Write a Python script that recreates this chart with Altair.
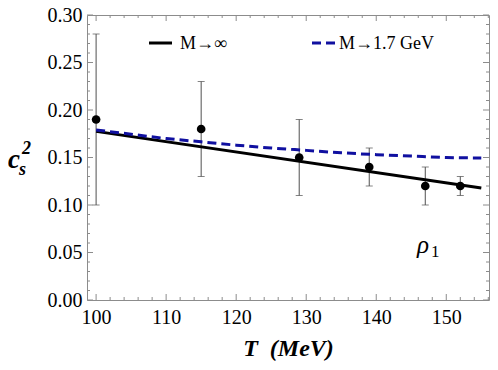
import altair as alt
import pandas as pd

# ---- data ----
T_pts = [100, 115, 129, 139, 147, 152]
cs2_pts = [0.19, 0.18, 0.15, 0.14, 0.12, 0.12]
err_lo = [0.10, 0.13, 0.11, 0.12, 0.10, 0.11]
err_hi = [0.28, 0.23, 0.19, 0.16, 0.14, 0.13]

T_inf = [100, 155]
cs2_inf = [0.1775, 0.118]

T_17 = [100, 105, 110, 115, 120, 125, 130, 135, 140, 145, 150, 155]
cs2_17 = [0.179, 0.1745, 0.170, 0.1665, 0.163, 0.160, 0.1575, 0.155, 0.153, 0.1515, 0.150, 0.1495]

x_major = [100, 110, 120, 130, 140, 150]
x_minor = [t for t in range(100, 157, 2) if t % 10 != 0]
y_major = [0.0, 0.05, 0.10, 0.15, 0.20, 0.25, 0.30]
y_minor = [round(i * 0.01, 2) for i in range(0, 31) if i % 5 != 0]

W, H = 402, 285
XS = alt.Scale(domain=[98.7, 156.1], nice=False, zero=False)
YS = alt.Scale(domain=[0.0, 0.30], nice=False, zero=False)
SERIF = "Liberation Serif"
FRAME = "#8c8c8c"

pts = pd.DataFrame({"T": T_pts, "c": cs2_pts, "lo": err_lo, "hi": err_hi})
inf = pd.DataFrame({"T": T_inf, "c": cs2_inf})
m17 = pd.DataFrame({"T": T_17, "c": cs2_17})

x_axis = alt.Axis(values=x_major, format="d", ticks=False, domain=False, grid=False,
                  labelFont=SERIF, labelFontSize=20, labelColor="black", labelPadding=7,
                  title="T\u00a0\u00a0(MeV)", titleFont=SERIF, titleFontSize=24, titleFontStyle="italic",
                  titleFontWeight="bold", titleColor="black", titlePadding=9)
y_axis = alt.Axis(values=y_major, format=".2f", ticks=False, domain=False, grid=False,
                  labelFont=SERIF, labelFontSize=20, labelColor="black", labelPadding=5,
                  title=None)

# error bars
err_rule = alt.Chart(pts).mark_rule(color="#505050", strokeWidth=1).encode(
    x=alt.X("T:Q", scale=XS, axis=x_axis),
    y=alt.Y("lo:Q", scale=YS, axis=y_axis),
    y2="hi:Q",
)
cap_lo = alt.Chart(pts).mark_tick(color="#505050", thickness=1, size=7, orient="horizontal").encode(
    x=alt.X("T:Q", scale=XS), y=alt.Y("lo:Q", scale=YS))
cap_hi = alt.Chart(pts).mark_tick(color="#505050", thickness=1, size=7, orient="horizontal").encode(
    x=alt.X("T:Q", scale=XS), y=alt.Y("hi:Q", scale=YS))

line_inf = alt.Chart(inf).mark_line(color="black", strokeWidth=3).encode(
    x=alt.X("T:Q", scale=XS), y=alt.Y("c:Q", scale=YS))
line_17 = alt.Chart(m17).mark_line(color="#1010a0", strokeWidth=3, strokeDash=[9, 5],
                                   interpolate="monotone").encode(
    x=alt.X("T:Q", scale=XS), y=alt.Y("c:Q", scale=YS))

points = alt.Chart(pts).mark_point(filled=True, color="black", size=75, opacity=1, shape="circle").encode(
    x=alt.X("T:Q", scale=XS), y=alt.Y("c:Q", scale=YS))

# frame ticks (inward)
xmaj = pd.DataFrame({"v": x_major})
xmin = pd.DataFrame({"v": x_minor})
ymaj = pd.DataFrame({"v": y_major})
ymin = pd.DataFrame({"v": y_minor})

def xticks(df, ln):
    b = alt.Chart(df).mark_rule(color=FRAME, strokeWidth=1).encode(
        x=alt.X("v:Q", scale=XS), y=alt.value(H), y2=alt.value(H - ln))
    t = alt.Chart(df).mark_rule(color=FRAME, strokeWidth=1).encode(
        x=alt.X("v:Q", scale=XS), y=alt.value(0), y2=alt.value(ln))
    return [b, t]

def yticks(df, ln):
    l = alt.Chart(df).mark_rule(color=FRAME, strokeWidth=1).encode(
        y=alt.Y("v:Q", scale=YS), x=alt.value(0), x2=alt.value(ln))
    r = alt.Chart(df).mark_rule(color=FRAME, strokeWidth=1).encode(
        y=alt.Y("v:Q", scale=YS), x=alt.value(W), x2=alt.value(W - ln))
    return [l, r]

tick_layers = xticks(xmaj, 6) + xticks(xmin, 3) + yticks(ymaj, 6) + yticks(ymin, 3)

# legend (manual)
dummy = pd.DataFrame({"a": [0]})
leg1 = alt.Chart(dummy).mark_rule(color="black", strokeWidth=3).encode(
    x=alt.value(62), x2=alt.value(85), y=alt.value(28))
leg1t = alt.Chart(dummy).mark_text(text="M→∞", font=SERIF, fontSize=18, align="left",
                                   baseline="middle", color="black").encode(
    x=alt.value(93), y=alt.value(29))
leg2 = alt.Chart(dummy).mark_rule(color="#1010a0", strokeWidth=3, strokeDash=[9, 5]).encode(
    x=alt.value(225), x2=alt.value(250), y=alt.value(28))
leg2t = alt.Chart(dummy).mark_text(text="M→1.7 GeV", font=SERIF, fontSize=18, align="left",
                                   baseline="middle", color="black").encode(
    x=alt.value(252), y=alt.value(29))

# rho_1 annotation
rho = alt.Chart(dummy).mark_text(text="ρ", font=SERIF, fontSize=25, fontStyle="italic",
                                 align="left", baseline="alphabetic", color="black").encode(
    x=alt.value(330), y=alt.value(238))
rho1 = alt.Chart(dummy).mark_text(text="1", font=SERIF, fontSize=17, align="left",
                                  baseline="alphabetic", color="black").encode(
    x=alt.value(344), y=alt.value(242))

# y title c_s^2
yc = alt.Chart(dummy).mark_text(text="c", font=SERIF, fontSize=27, fontStyle="italic",
                                fontWeight="bold", align="left", baseline="alphabetic",
                                color="black").encode(x=alt.value(-79), y=alt.value(153))
ys = alt.Chart(dummy).mark_text(text="s", font=SERIF, fontSize=18, fontStyle="italic",
                                fontWeight="bold", align="left", baseline="alphabetic",
                                color="black").encode(x=alt.value(-68), y=alt.value(160))
y2 = alt.Chart(dummy).mark_text(text="2", font=SERIF, fontSize=18, fontStyle="italic",
                                fontWeight="bold", align="left", baseline="alphabetic",
                                color="black").encode(x=alt.value(-65), y=alt.value(139))

chart = alt.layer(
    err_rule, cap_lo, cap_hi, line_inf, line_17, points, *tick_layers,
    leg1, leg1t, leg2, leg2t, rho, rho1, yc, ys, y2,
).properties(
    width=W, height=H,
    autosize=alt.AutoSizeParams(type="none"),
    padding={"left": 79, "top": 7, "right": 1, "bottom": 61},
).configure_view(stroke=FRAME, strokeWidth=1)

chart.save("out.html", embed_options={"renderer": "svg", "actions": False})
